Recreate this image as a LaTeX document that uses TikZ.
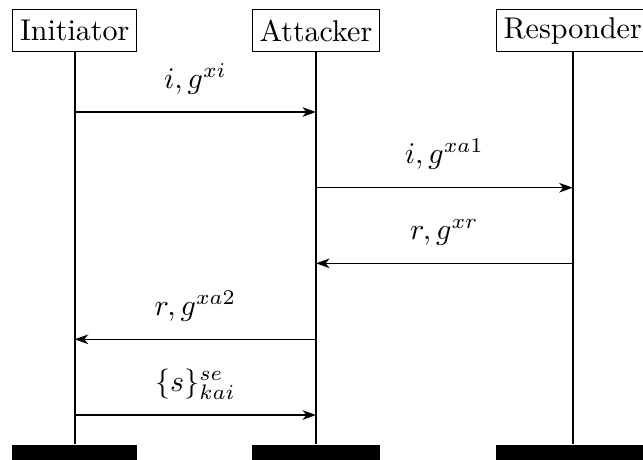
\documentclass[tikz,border=0pt]{standalone}
\usetikzlibrary{arrows.meta,fit}
\begin{document}
\begin{tikzpicture}[x=0.33333pt,y=-0.33333pt,
  inst/.style={draw, line width=0.4pt, rectangle, inner xsep=2.5pt, inner ysep=0.5pt, minimum height=14pt},
  endbar/.style={fill=black, draw=none, inner sep=0pt},
  life/.style={line width=0.7pt},
  msg/.style={line width=0.5pt, -{Stealth[length=4.5pt,width=3.2pt,inset=1.3pt]}},
  lbl/.style={anchor=base, yshift=8pt, inner sep=0pt}]
\useasboundingbox (0,0) rectangle (643,459);
% headers
\node[inst] (I) at (74.7,30.5) {Initiator};
\node[inst] (A) at (316,30.5) {Attacker};
\node[inst] (R) at (572.7,30.5) {Responder};
% end bars
\node[endbar, fit={(I.west |- 0,444.5) (I.east |- 0,460)}] (Ie) {};
\node[endbar, fit={(A.west |- 0,444.5) (A.east |- 0,460)}] (Ae) {};
\node[endbar, fit={(R.west |- 0,444.5) (R.east |- 0,460)}] (Re) {};
% lifelines
\draw[life] (I.south) -- (Ie.north);
\draw[life] (A.south) -- (Ae.north);
\draw[life] (R.south) -- (Re.north);
% message end points
\coordinate (i1) at (I |- 0,112);   \coordinate (a1) at (A |- 0,112);
\coordinate (a2) at (A |- 0,187.7); \coordinate (r2) at (R |- 0,187.7);
\coordinate (r3) at (R |- 0,263.3); \coordinate (a3) at (A |- 0,263.3);
\coordinate (a4) at (A |- 0,339.3); \coordinate (i4) at (I |- 0,339.3);
\coordinate (i5) at (I |- 0,415);   \coordinate (a5) at (A |- 0,415);
% messages
\draw[msg] (i1) -- (a1) node[lbl, midway] (l1) {$i,g^{xi}$};
\draw[msg] (a2) -- (r2) node[lbl, midway] (l2) {$i,g^{xa1}$};
\draw[msg] (r3) -- (a3) node[lbl, midway] (l3) {$r,g^{xr}$};
\draw[msg] (a4) -- (i4) node[lbl, midway] (l4) {$r,g^{xa2}$};
\draw[msg] (i5) -- (a5) node[lbl, midway] (l5) {$\{s\}^{se}_{kai}$};
\end{tikzpicture}
\end{document}
